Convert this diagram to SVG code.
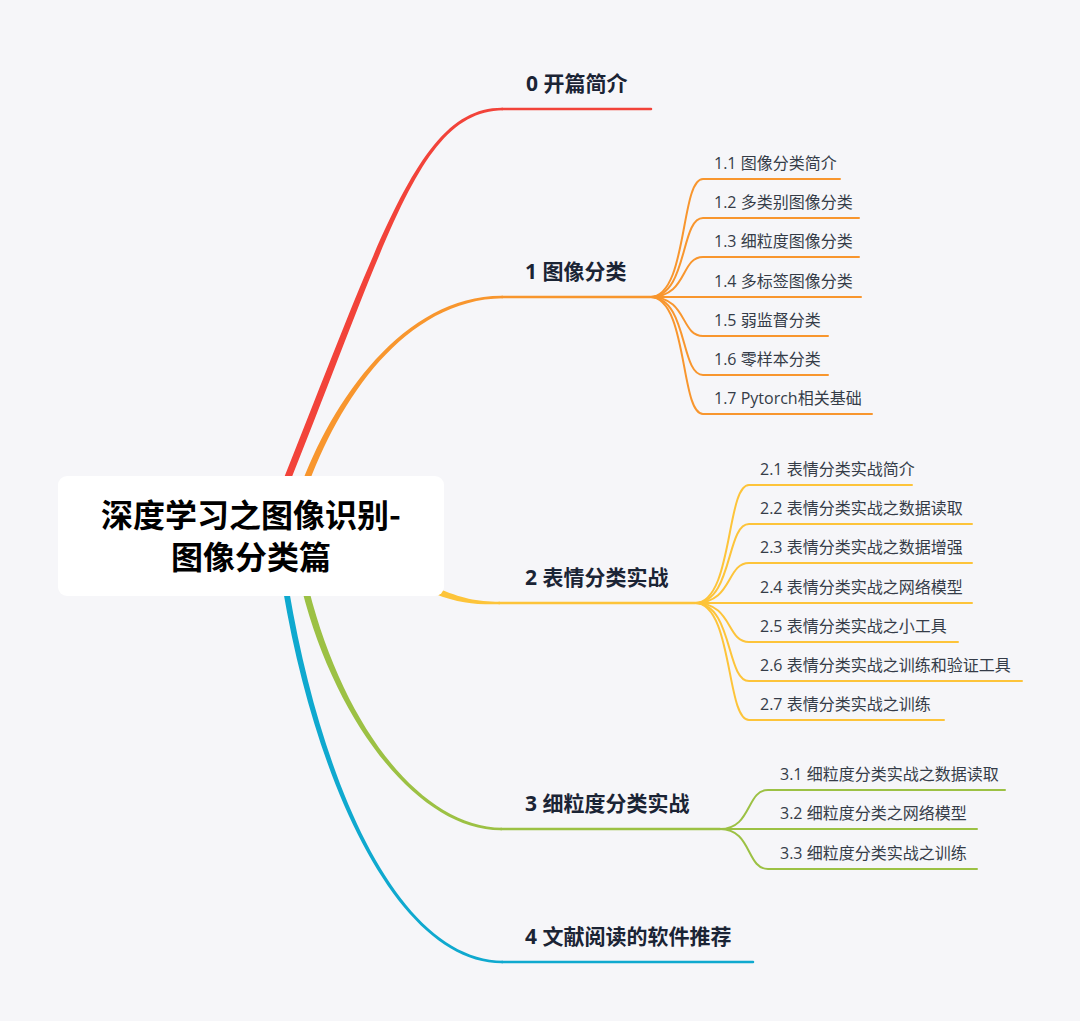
<svg xmlns="http://www.w3.org/2000/svg" width="1080" height="1021" viewBox="0 0 1080 1021">
<style>
.main{font-family:"Open Sans","Noto Sans CJK SC",sans-serif;font-size:21px;font-weight:700;fill:#1b2435}
.sub{font-family:"Open Sans","Noto Sans CJK SC",sans-serif;font-size:16px;font-weight:400;fill:#353c48}
.root{font-family:"Noto Sans CJK SC",sans-serif;font-size:32px;font-weight:700;fill:#000;text-anchor:middle}
.ln{fill:none;stroke-linecap:round}
.hm{stroke-width:2.5}
.sb{stroke-width:2}
.r{stroke:#f2433a}.rf{fill:#f2433a}
.o{stroke:#f8962e}.of{fill:#f8962e}
.y{stroke:#fdc43a}.yf{fill:#fdc43a}
.g{stroke:#9cc144}.gf{fill:#9cc144}
.b{stroke:#0fa9cf}.bf{fill:#0fa9cf}
</style>
<rect x="0" y="0" width="1080" height="1021" fill="#f6f6f9"/>
<g id="connectors">
  <!-- main branches (tapered) -->
  <path class="rf" d="M279.2,490 C383.2,230 420,106.6 503,107.8 L503,110.2 C420,111.4 390.8,230 286.8,490 Z"/>
  <path class="ln r hm" d="M502,109 H651"/>
  <path class="of" d="M299.5,490 C331.5,400 405,294.6 503,295.8 L503,298.2 C405,299.4 338.5,400 306.5,490 Z"/>
  <path class="ln o hm" d="M502,297 H650"/>
  <path class="yf" d="M436,587.5 C462,598.5 476,601.5 500,601.8 L500,604.2 C476,604.5 460,604 434,593.5 Z"/>
  <path class="ln y hm" d="M499,603 H695"/>
  <path class="gf" d="M302,590 C336.5,725 420,831.4 502,830.2 L502,827.8 C420,826.6 343.5,725 309,590 Z"/>
  <path class="ln g hm" d="M501,829 H720"/>
  <path class="bf" d="M283,590 C317,790 400,964.4 503,963.2 L503,960.8 C400,959.6 323,790 289,590 Z"/>
  <path class="ln b hm" d="M502,962 H753"/>
  <!-- section 1 sub-branches -->
  <g class="ln o sb">
    <path d="M650,297 C688,297 680,179 703,179 H840"/>
    <path d="M650,297 C688,297 680,218 703,218 H859"/>
    <path d="M650,297 C688,297 680,257 703,257 H859"/>
    <path d="M650,297 H861"/>
    <path d="M650,297 C688,297 680,336 703,336 H828"/>
    <path d="M650,297 C688,297 680,375 703,375 H828"/>
    <path d="M650,297 C688,297 680,414 703,414 H872"/>
  </g>
  <!-- section 2 sub-branches -->
  <g class="ln y sb">
    <path d="M695,603 C733,603 726,485 749,485 H912"/>
    <path d="M695,603 C733,603 726,524 749,524 H972"/>
    <path d="M695,603 C733,603 726,563 749,563 H972"/>
    <path d="M695,603 H972"/>
    <path d="M695,603 C733,603 726,642 749,642 H958"/>
    <path d="M695,603 C733,603 726,681 749,681 H1022"/>
    <path d="M695,603 C733,603 726,720 749,720 H944"/>
  </g>
  <!-- section 3 sub-branches -->
  <g class="ln g sb">
    <path d="M720,829 C752,829 746,790 768,790 H1005"/>
    <path d="M720,829 H977"/>
    <path d="M720,829 C752,829 746,869 768,869 H977"/>
  </g>
</g>
<g id="root">
  <rect x="58" y="476" width="386" height="120" rx="9" fill="#ffffff"/>
  <text class="root" x="251" y="527">深度学习之图像识别-</text>
  <text class="root" x="251" y="569">图像分类篇</text>
</g>
<g id="n0"><text class="main" x="526" y="91">0 开篇简介</text></g>
<g id="n1"><text class="main" x="525" y="279">1 图像分类</text></g>
<g id="n1-1"><text class="sub" x="714" y="169">1.1 图像分类简介</text></g>
<g id="n1-2"><text class="sub" x="714" y="208">1.2 多类别图像分类</text></g>
<g id="n1-3"><text class="sub" x="714" y="247">1.3 细粒度图像分类</text></g>
<g id="n1-4"><text class="sub" x="714" y="287">1.4 多标签图像分类</text></g>
<g id="n1-5"><text class="sub" x="714" y="326">1.5 弱监督分类</text></g>
<g id="n1-6"><text class="sub" x="714" y="365">1.6 零样本分类</text></g>
<g id="n1-7"><text class="sub" x="714" y="404">1.7 Pytorch相关基础</text></g>
<g id="n2"><text class="main" x="525" y="585">2 表情分类实战</text></g>
<g id="n2-1"><text class="sub" x="760" y="475">2.1 表情分类实战简介</text></g>
<g id="n2-2"><text class="sub" x="760" y="514">2.2 表情分类实战之数据读取</text></g>
<g id="n2-3"><text class="sub" x="760" y="553">2.3 表情分类实战之数据增强</text></g>
<g id="n2-4"><text class="sub" x="760" y="593">2.4 表情分类实战之网络模型</text></g>
<g id="n2-5"><text class="sub" x="760" y="632">2.5 表情分类实战之小工具</text></g>
<g id="n2-6"><text class="sub" x="760" y="671">2.6 表情分类实战之训练和验证工具</text></g>
<g id="n2-7"><text class="sub" x="760" y="710">2.7 表情分类实战之训练</text></g>
<g id="n3"><text class="main" x="525" y="811">3 细粒度分类实战</text></g>
<g id="n3-1"><text class="sub" x="780" y="780">3.1 细粒度分类实战之数据读取</text></g>
<g id="n3-2"><text class="sub" x="780" y="819">3.2 细粒度分类之网络模型</text></g>
<g id="n3-3"><text class="sub" x="780" y="859">3.3 细粒度分类实战之训练</text></g>
<g id="n4"><text class="main" x="525" y="944">4 文献阅读的软件推荐</text></g>
</svg>
